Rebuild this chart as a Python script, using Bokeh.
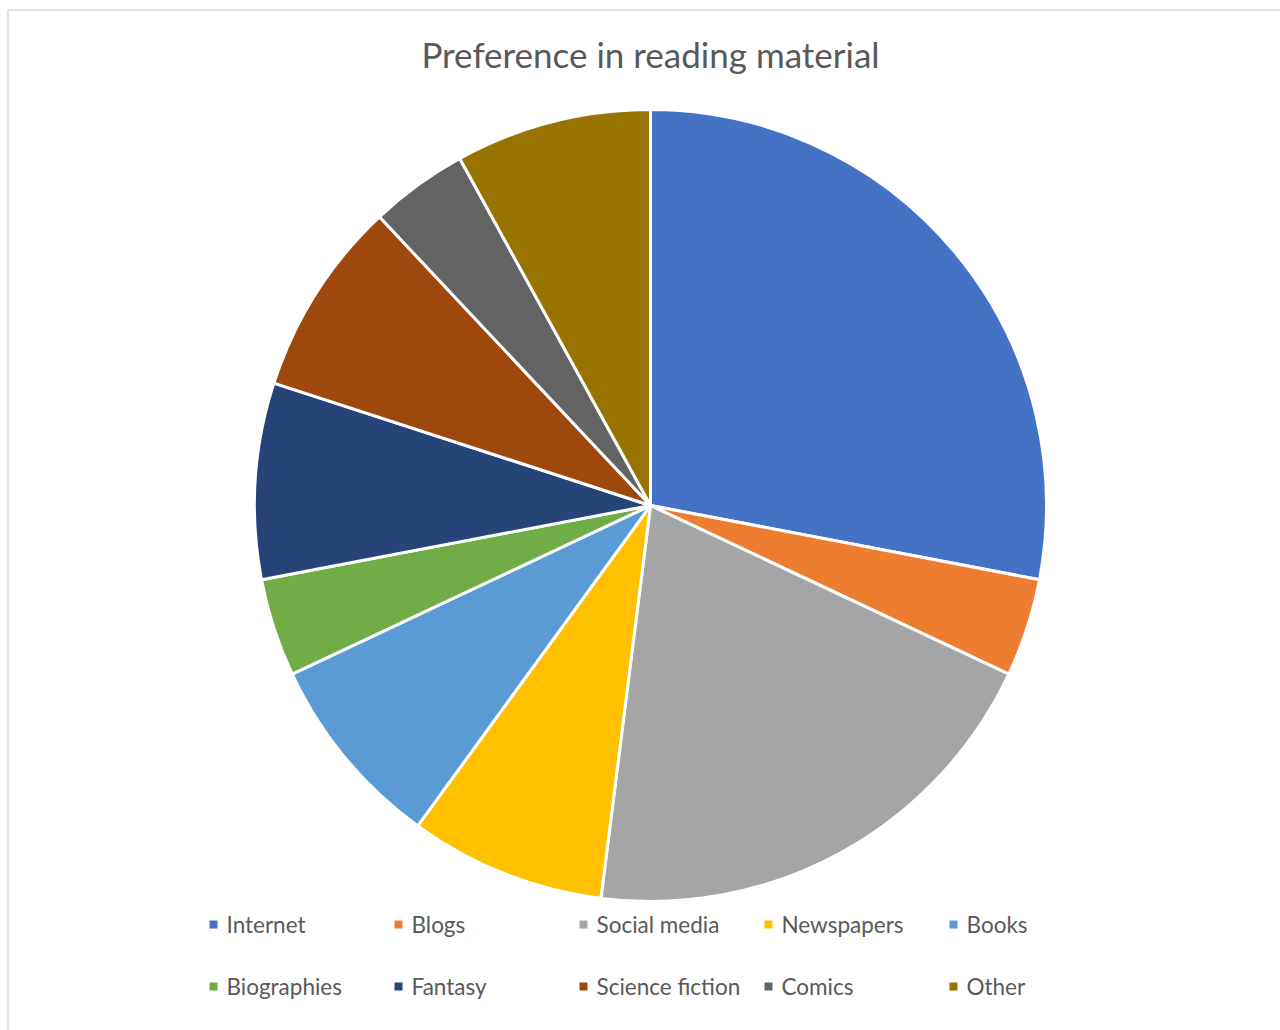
import math
from bokeh.plotting import figure
from bokeh.models import Range1d, ColumnDataSource
from bokeh.core.properties import value
from bokeh.embed import file_html
from bokeh.resources import INLINE

categories = ["Internet", "Blogs", "Social media", "Newspapers", "Books",
              "Biographies", "Fantasy", "Science fiction", "Comics", "Other"]
values = [7, 1, 5, 2, 2, 1, 2, 2, 1, 2]
colors = ["#4472C4", "#ED7D31", "#A5A5A5", "#FFC000", "#5B9BD5",
          "#70AD47", "#264478", "#9E480E", "#636363", "#997300"]
title_text = "Preference in reading material"

W, H = 1280, 1030
FONT = "Lato"

p = figure(width=W, height=H, output_backend="svg", toolbar_location=None,
           x_range=Range1d(0, W), y_range=Range1d(0, H), min_border=0)
p.axis.visible = False
p.grid.visible = False
p.outline_line_color = None
p.background_fill_color = "white"
p.border_fill_color = "white"

# chart border
p.quad(left=[7.5], right=[W + 20], top=[H - 9.5], bottom=[-20],
       fill_color=None, line_color="#D9D9D9", line_width=1.5)

cx, cy, r = 650, H - 505, 396
total = sum(values)
starts, ends = [], []
acc = 0
for v in values:
    starts.append(math.pi / 2 - acc / total * 2 * math.pi)
    acc += v
    ends.append(math.pi / 2 - acc / total * 2 * math.pi)

src = ColumnDataSource(dict(start=starts, end=ends, color=colors, name=categories))
p.wedge(x=cx, y=cy, radius=r, start_angle="start", end_angle="end",
        direction="clock", fill_color="color", line_color="white",
        line_width=3, source=src)

# title
p.text(x=[650], y=[H - 53], text=[title_text], text_font=value(FONT),
       text_font_size="35px", text_color="#595959", text_align="center",
       text_baseline="middle")

# legend
lx, ly = [], []
for i, c in enumerate(categories):
    col, row = i % 5, i // 5
    lx.append(213 + col * 185)
    ly.append(H - (924 + row * 62))
p.rect(x=lx, y=ly, width=8, height=8, fill_color=colors, line_color=None)
p.text(x=[x + 13 for x in lx], y=ly, text=categories, text_font=value(FONT),
       text_font_size="22.5px", text_color="#595959", text_align="left",
       text_baseline="middle")

open("out.html", "w").write(file_html(p, INLINE))
